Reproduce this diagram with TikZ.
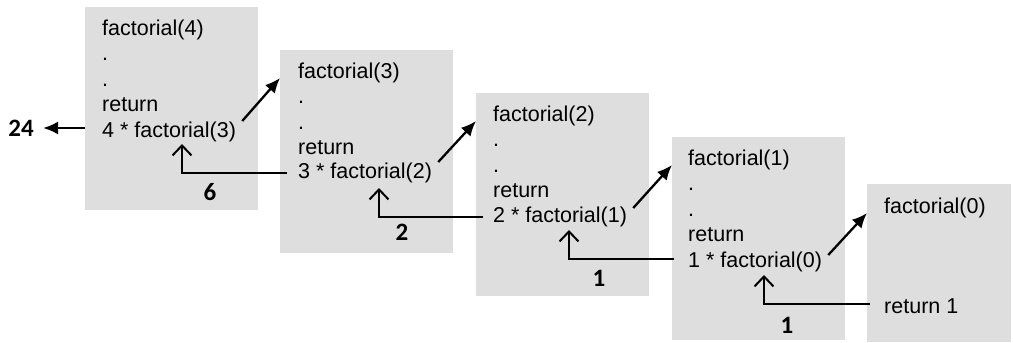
\documentclass[tikz,border=0pt]{standalone}
\usepackage{fontspec}
\setmainfont{Liberation Sans}
\newfontfamily\numfont{Carlito}
\usetikzlibrary{arrows.meta}
\definecolor{boxgray}{RGB}{222,222,222}
\tikzset{
  frame/.style={fill=boxgray, draw=none, minimum width=173pt, minimum height=203pt, anchor=north west, inner sep=0pt},
  codeline/.style={anchor=base west, inner sep=0pt, font=\fontsize{21.5}{25}\selectfont},
  numlabel/.style={inner sep=0pt, font=\numfont\bfseries\fontsize{25}{28}\selectfont},
  call/.style={line width=2.3pt, -{Latex[length=15pt,width=13pt]}},
  ret/.style={line width=2pt, -{Straight Barb[length=10pt,width=19pt]}}
}
\begin{document}
\begin{tikzpicture}[x=1pt,y=-1pt]
\useasboundingbox (0,0) rectangle (1013,343);
% boxes
\node[frame] (b1) at (85,7) {};
\node[frame] (b2) at (280,50) {};
\node[frame] (b3) at (476,93) {};
\node[frame] (b4) at (672,137) {};
\node[frame, minimum width=144pt, minimum height=158pt] (b5) at (867,184) {};
% box 1
\node[codeline] (b1t1) at (102,35) {factorial(4)};
\node[codeline] (b1t2) at (102,60.5) {.};
\node[codeline] (b1t3) at (102,86) {.};
\node[codeline] (b1t4) at (102,111.5) {return};
\node[codeline] (b1t5) at (102,137) {4 * factorial(3)};
% box 2
\node[codeline] (b2t1) at (298,78) {factorial(3)};
\node[codeline] (b2t2) at (298,103.5) {.};
\node[codeline] (b2t3) at (298,129) {.};
\node[codeline] (b2t4) at (298,154.5) {return};
\node[codeline] (b2t5) at (298,178) {3 * factorial(2)};
% box 3
\node[codeline] (b3t1) at (493,121) {factorial(2)};
\node[codeline] (b3t2) at (493,146.5) {.};
\node[codeline] (b3t3) at (493,172) {.};
\node[codeline] (b3t4) at (493,197.5) {return};
\node[codeline] (b3t5) at (493,222) {2 * factorial(1)};
% box 4
\node[codeline] (b4t1) at (688,165) {factorial(1)};
\node[codeline] (b4t2) at (688,190.5) {.};
\node[codeline] (b4t3) at (688,216) {.};
\node[codeline] (b4t4) at (688,241.5) {return};
\node[codeline] (b4t5) at (688,267) {1 * factorial(0)};
% box 5
\node[codeline] (b5t1) at (884,213) {factorial(0)};
\node[codeline] (b5t5) at (884,313) {return 1};
% final result
\node[numlabel] (n24) at (21,128) {24};
\coordinate (t24) at (43,128);
\draw[call] (b1.west |- t24) -- (t24);
% calls
\draw[call] ([xshift=6pt,yshift=16pt]b1t5.base east) -- (b2.west |- b2t1.base);
\draw[call] ([xshift=6pt,yshift=16pt]b2t5.base east) -- (b3.west |- b3t1.base);
\draw[call] ([xshift=6pt,yshift=14pt]b3t5.base east) -- (b4.west |- b4t1.base);
\draw[call] ([xshift=6pt,yshift=12pt]b4t5.base east) -- (b5.west |- b5t1.base);
% returns
\draw[ret] ([xshift=-11pt,yshift=5pt]b2t5.base west) -| ([xshift=80pt,yshift=-7pt]b1t5.base west);
\draw[ret] ([xshift=-10pt,yshift=5pt]b3t5.base west) -| ([xshift=81pt,yshift=-10pt]b2t5.base west);
\draw[ret] ([xshift=-14pt,yshift=8pt]b4t5.base west) -| ([xshift=76pt,yshift=-8pt]b3t5.base west);
\draw[ret] ([xshift=-14pt,yshift=9pt]b5t5.base west) -| ([xshift=76pt,yshift=-8pt]b4t5.base west);
% returned values
\node[numlabel] (v6) at (210,192) {6};
\node[numlabel] (v2) at (402,232) {2};
\node[numlabel] (v1a) at (599,278) {1};
\node[numlabel] (v1b) at (787,325) {1};
\end{tikzpicture}
\end{document}
